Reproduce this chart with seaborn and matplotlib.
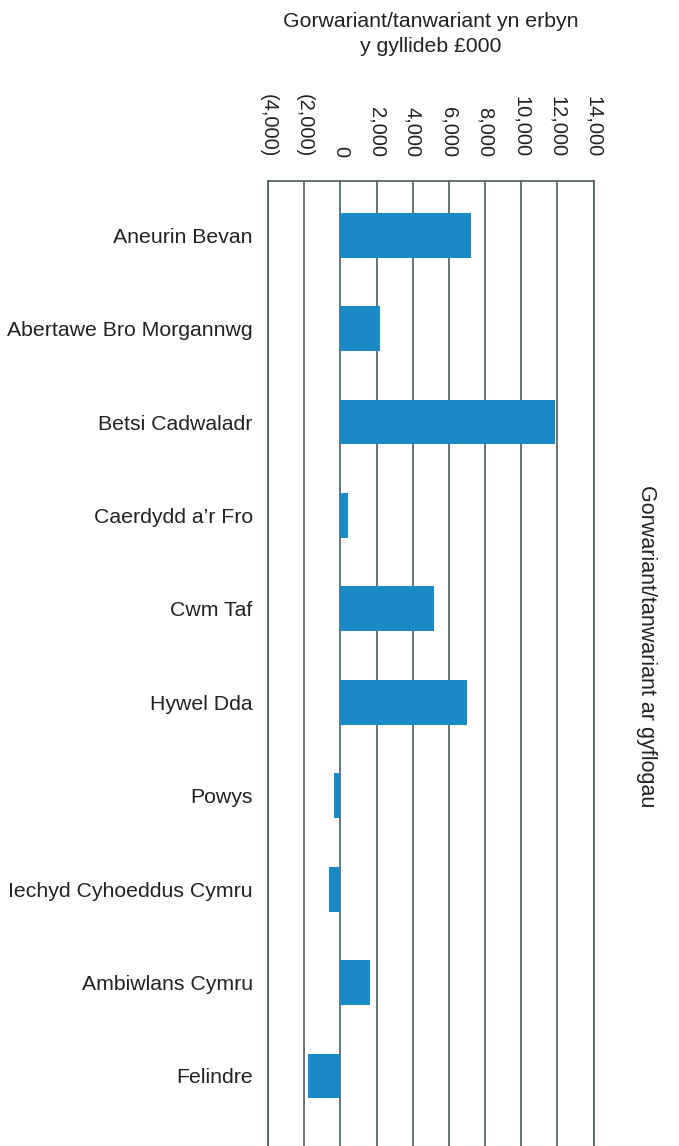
import pandas as pd
import seaborn as sns
import matplotlib.pyplot as plt
from matplotlib.ticker import FuncFormatter

# Datos (£000)
byrddau = ["Aneurin Bevan", "Abertawe Bro Morgannwg", "Betsi Cadwaladr",
           "Caerdydd a’r Fro", "Cwm Taf", "Hywel Dda", "Powys",
           "Iechyd Cyhoeddus Cymru", "Ambiwlans Cymru", "Felindre"]
gwerthoedd = [7200, 2200, 11870, 450, 5190, 7000, -370, -650, 1640, -1810]
ticiau = [-4000, -2000, 0, 2000, 4000, 6000, 8000, 10000, 12000, 14000]

df = pd.DataFrame({"bwrdd": byrddau, "gwerth": gwerthoedd})

sns.set_style("white")
plt.rcParams["font.family"] = ["Liberation Sans", "DejaVu Sans"]

fig = plt.figure(figsize=(6.79, 11.46), dpi=100)
ax = fig.add_axes([268 / 679, 0.0, 325.5 / 679, 1 - 181 / 1146])

sns.barplot(data=df, x="gwerth", y="bwrdd", orient="h", color="#1a8ac6",
            saturation=1, width=0.48, linewidth=0, ax=ax)

ax.set_xlim(-4000, 14000)
ax.set_ylim(9.75, -0.58)
ax.set_xticks(ticiau)
ax.xaxis.set_major_formatter(FuncFormatter(
    lambda v, p: "0" if v == 0 else (f"({abs(v):,.0f})" if v < 0 else f"{v:,.0f}")))
ax.xaxis.tick_top()
ax.tick_params(axis="x", length=0, pad=17, labelsize=14.5, labelrotation=-90, colors="#222222")
ax.tick_params(axis="y", length=0, pad=11, labelsize=15.3, colors="#222222")
ax.set_xlabel("")
ax.set_ylabel("")

# Líneas de la cuadrícula
ax.set_axisbelow(True)
ax.grid(axis="x", color="#4d5b60", linewidth=1.2)
ax.grid(axis="y", visible=False)
for s in ["left", "right", "top"]:
    ax.spines[s].set_color("#4d5b60")
    ax.spines[s].set_linewidth(1.2)
ax.spines["bottom"].set_visible(False)

fig.text(431 / 679, 1 - 34 / 1146, "Gorwariant/tanwariant yn erbyn\ny gyllideb £000",
         ha="center", va="center", fontsize=15.3, color="#222222", linespacing=1.45)
fig.text(646 / 679, 1 - 646 / 1146, "Gorwariant/tanwariant ar gyflogau",
         ha="center", va="center", rotation=-90, fontsize=15.5, color="#222222")

plt.savefig("out.png", dpi=100)
